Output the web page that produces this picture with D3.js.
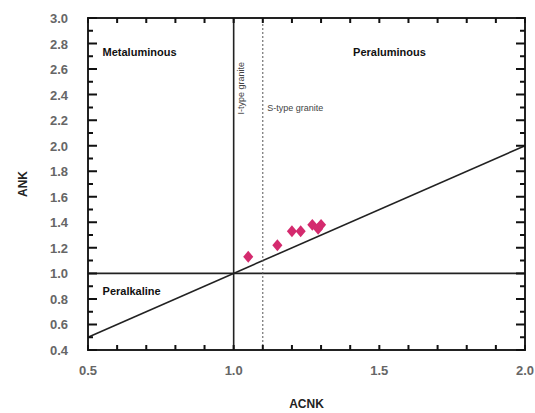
<!DOCTYPE html>
<html>
<head>
<meta charset="utf-8">
<script src="https://cdn.jsdelivr.net/npm/d3@7"></script>
<style>
  body { margin: 0; background: #fff; }
  svg { font-family: "Liberation Sans", Arial, sans-serif; }
</style>
</head>
<body>
<div id="chart"></div>
<script>
// --- Data ---
const acnk = [1.05, 1.15, 1.20, 1.23, 1.27, 1.29, 1.30];
const ank  = [1.13, 1.22, 1.33, 1.33, 1.38, 1.35, 1.38];
const xTicks = [0.5, 1.0, 1.5, 2.0];
const yTicks = [0.4, 0.6, 0.8, 1.0, 1.2, 1.4, 1.6, 1.8, 2.0, 2.2, 2.4, 2.6, 2.8, 3.0];
const fieldLabels = ["Metaluminous", "Peraluminous", "Peralkaline"];
const fieldPos = [[0.55, 2.70], [1.41, 2.70], [0.55, 0.83]];

const W = 535, H = 413;
const plotL = 88, plotR = 525, plotT = 18, plotB = 350;

const svg = d3.select("#chart").append("svg")
    .attr("width", W)
    .attr("height", H);

// --- Scales ---
const x = d3.scaleLinear().domain([0.5, 2.0]).range([plotL, plotR]);
const y = d3.scaleLinear().domain([0.4, 3.0]).range([plotB, plotT]);

// minor ticks every 0.1
const xMinor = d3.range(5, 21).map(d => d / 10);
const yMinor = d3.range(4, 31).map(d => d / 10);
const isMajorY = v => Math.round(v * 10) % 2 === 0;

// tick labels
svg.append("g").selectAll("text")
    .data(yTicks)
    .join("text")
    .attr("x", plotL - 20)
    .attr("y", d => y(d) + 5)
    .attr("text-anchor", "end")
    .attr("fill", "#666")
    .style("font-size", "13px")
    .style("font-weight", "bold")
    .text(d => d.toFixed(1));
svg.append("g").selectAll("text")
    .data(xTicks)
    .join("text")
    .attr("x", d => x(d))
    .attr("y", plotB + 25)
    .attr("text-anchor", "middle")
    .attr("fill", "#666")
    .style("font-size", "13px")
    .style("font-weight", "bold")
    .text(d => d.toFixed(1));

// frame
svg.append("rect")
    .attr("x", plotL).attr("y", plotT)
    .attr("width", plotR - plotL).attr("height", plotB - plotT)
    .attr("fill", "none")
    .attr("stroke", "#222")
    .attr("stroke-width", 2);

// --- Boundary lines ---
const lines = svg.append("g").attr("stroke", "#222").attr("stroke-width", 1.6);
lines.append("line")
    .attr("x1", x(1.0)).attr("x2", x(1.0))
    .attr("y1", y(0.4)).attr("y2", y(3.0));
lines.append("line")
    .attr("x1", x(0.5)).attr("x2", x(2.0))
    .attr("y1", y(1.0)).attr("y2", y(1.0));
lines.append("line")
    .attr("x1", x(0.5)).attr("x2", x(2.0))
    .attr("y1", y(0.5)).attr("y2", y(2.0));
svg.append("line")
    .attr("x1", x(1.1)).attr("x2", x(1.1))
    .attr("y1", y(0.4)).attr("y2", y(3.0))
    .attr("stroke", "#555")
    .attr("stroke-width", 1)
    .attr("stroke-dasharray", "2,2");

// --- Inward tick marks on all four sides (one path per side) ---
const tickPath = (vals, fn) => vals.map(fn).join("");
svg.append("path")
    .attr("fill", "none").attr("stroke", "#111").attr("stroke-width", 2)
    .attr("d", tickPath(xMinor, d => `M${x(d)},${plotB}V${plotB - 5}M${x(d)},${plotT}V${plotT + 5}`));
svg.append("path")
    .attr("fill", "none").attr("stroke", "#111").attr("stroke-width", 2)
    .attr("d", tickPath(yMinor, d => {
        const len = isMajorY(d) ? 9 : 5;
        return `M${plotL},${y(d)}H${plotL + len}M${plotR},${y(d)}H${plotR - len}`;
    }));

// --- Field labels ---
svg.append("g").selectAll("text")
    .data(fieldLabels)
    .join("text")
    .attr("x", (d, i) => x(fieldPos[i][0]))
    .attr("y", (d, i) => y(fieldPos[i][1]))
    .style("font-size", "11px")
    .style("font-weight", "bold")
    .attr("fill", "#111")
    .text(d => d);

svg.append("text")
    .attr("transform", `translate(${x(1.035)},${y(2.45)}) rotate(-90)`)
    .attr("text-anchor", "middle")
    .style("font-size", "9px")
    .attr("fill", "#444")
    .text("I-type granite");
svg.append("text")
    .attr("x", x(1.115))
    .attr("y", y(2.27))
    .style("font-size", "9px")
    .attr("fill", "#444")
    .text("S-type granite");

// --- Axis titles ---
svg.append("text")
    .attr("transform", `translate(27,${y(1.7)}) rotate(-90)`)
    .attr("text-anchor", "middle")
    .style("font-size", "12px")
    .style("font-weight", "bold")
    .attr("fill", "#222")
    .text("ANK");
svg.append("text")
    .attr("x", x(1.25))
    .attr("y", 408)
    .attr("text-anchor", "middle")
    .style("font-size", "12px")
    .style("font-weight", "bold")
    .attr("fill", "#222")
    .text("ACNK");

// --- Data points (squat diamonds, like the original markers) ---
const wideDiamond = {
    draw(ctx, size) {
        const h = Math.sqrt(size / 1.7);
        const w = h * 0.85;
        ctx.moveTo(0, -h);
        ctx.lineTo(w, 0);
        ctx.lineTo(0, h);
        ctx.lineTo(-w, 0);
        ctx.closePath();
    }
};
svg.append("g").selectAll("path")
    .data(acnk)
    .join("path")
    .attr("d", d3.symbol(wideDiamond, 60))
    .attr("transform", (d, i) => `translate(${x(d)},${y(ank[i])})`)
    .attr("fill", "#d42a6e");
</script>
</body>
</html>
